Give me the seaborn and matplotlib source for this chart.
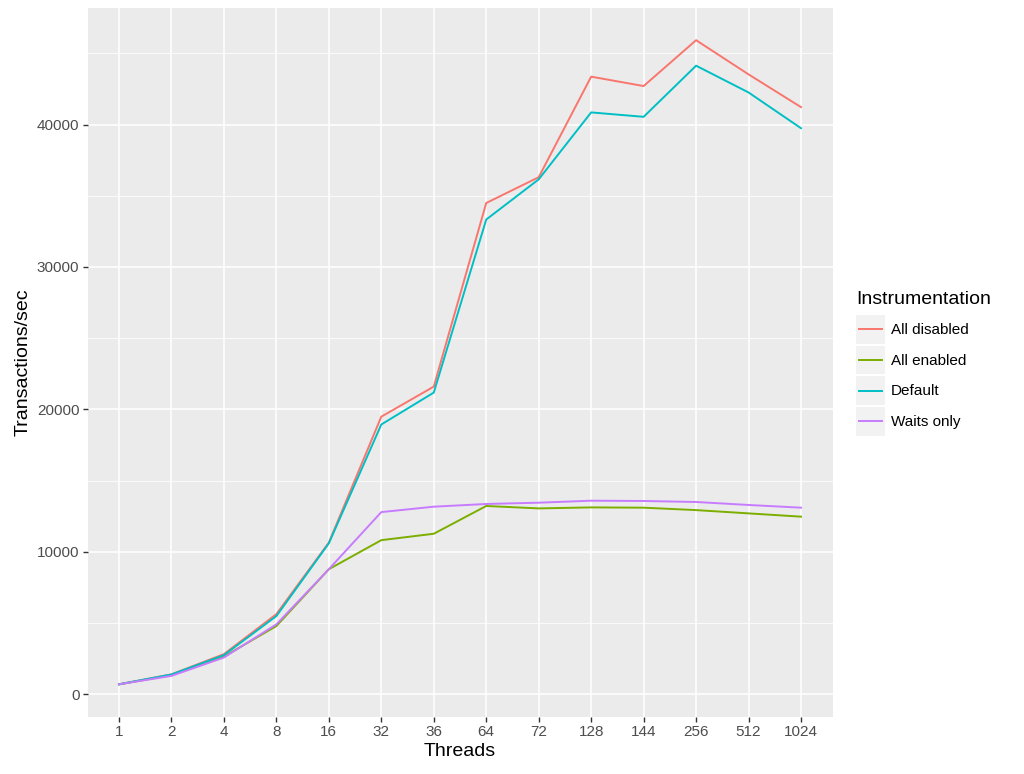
import matplotlib
matplotlib.use("Agg")
import matplotlib.pyplot as plt
import seaborn as sns
import pandas as pd
from matplotlib.legend_handler import HandlerBase
from matplotlib.patches import Rectangle
from matplotlib.lines import Line2D

threads = ["1", "2", "4", "8", "16", "32", "36", "64", "72", "128", "144", "256", "512", "1024"]
all_disabled = [700, 1400, 2820, 5630, 10650, 19490, 21600, 34490, 36300, 43360, 42700, 45920, 43520, 41220]
all_enabled = [700, 1340, 2650, 4790, 8780, 10820, 11270, 13220, 13050, 13120, 13100, 12930, 12700, 12470]
default = [700, 1390, 2750, 5490, 10600, 18940, 21180, 33330, 36150, 40850, 40540, 44130, 42250, 39740]
waits_only = [700, 1290, 2580, 4910, 8780, 12790, 13170, 13360, 13450, 13590, 13570, 13500, 13290, 13100]
series_names = ["All disabled", "All enabled", "Default", "Waits only"]
colors = ["#F8766D", "#7CAE00", "#00BFC4", "#C77CFF"]

frames = []
for name, vals in zip(series_names, [all_disabled, all_enabled, default, waits_only]):
    frames.append(pd.DataFrame({"Threads": threads, "Transactions/sec": vals, "Instrumentation": name}))
df = pd.concat(frames, ignore_index=True)

plt.rcParams['font.family'] = ['Liberation Sans', 'DejaVu Sans']

fig = plt.figure(figsize=(10.24, 7.74), dpi=100)
W, H = 1024, 774
ax = fig.add_axes([87.5 / W, (H - 716.5) / H, (832.5 - 87.5) / W, (716.5 - 8) / H])
ax.set_facecolor("#EBEBEB")

sns.lineplot(data=df, x="Threads", y="Transactions/sec", hue="Instrumentation",
             hue_order=series_names, palette=colors, linewidth=1.4, ax=ax,
             legend=False, sort=False)

ax.set_xlim(-0.6, len(threads) - 1 + 0.6)
ax.set_ylim(-1560, 48180)
ax.set_yticks([0, 10000, 20000, 30000, 40000])
ax.set_yticks([5000, 15000, 25000, 35000, 45000], minor=True)
ax.set_xticks(range(len(threads)))
ax.set_xticklabels(threads)

ax.grid(which="major", color="white", linewidth=1.1)
ax.grid(which="minor", axis="y", color="white", linewidth=0.55)
ax.set_axisbelow(True)
for s in ax.spines.values():
    s.set_visible(False)
ax.tick_params(axis="both", which="major", length=3.6, width=1.0, color="#333333",
               labelsize=11, labelcolor="#4D4D4D", pad=2.2)
ax.tick_params(axis="both", which="minor", length=0)
ax.set_xlabel("Threads", fontsize=14, color="black", labelpad=3.5)
ax.set_ylabel("Transactions/sec", fontsize=14, color="black", labelpad=3.5)


class KeyHandler(HandlerBase):
    def create_artists(self, legend, orig_handle, xdescent, ydescent, width, height, fontsize, trans):
        r = Rectangle((-xdescent, -ydescent), width, height, facecolor="#F2F2F2",
                      edgecolor="none", transform=trans)
        yc = -ydescent + height / 2.0
        inset = 1.5
        ln = Line2D([-xdescent + inset, -xdescent + width - inset], [yc, yc],
                    color=orig_handle.get_color(), linewidth=orig_handle.get_linewidth(),
                    solid_capstyle="butt", transform=trans)
        return [r, ln]


handles = [Line2D([0, 1], [0, 0], color=c, linewidth=1.4) for c in colors]
leg = fig.legend(handles, series_names, loc="upper left",
                 bbox_to_anchor=(856 / W, 1 - 291 / H), frameon=False,
                 title="Instrumentation", title_fontsize=14, fontsize=11,
                 handlelength=1.9, handleheight=2.5, labelspacing=0.14,
                 handletextpad=0.37, borderpad=0, borderaxespad=0,
                 alignment="left",
                 handler_map={Line2D: KeyHandler()})
leg._legend_box.sep = 5.0

fig.savefig("out.png", dpi=100)
